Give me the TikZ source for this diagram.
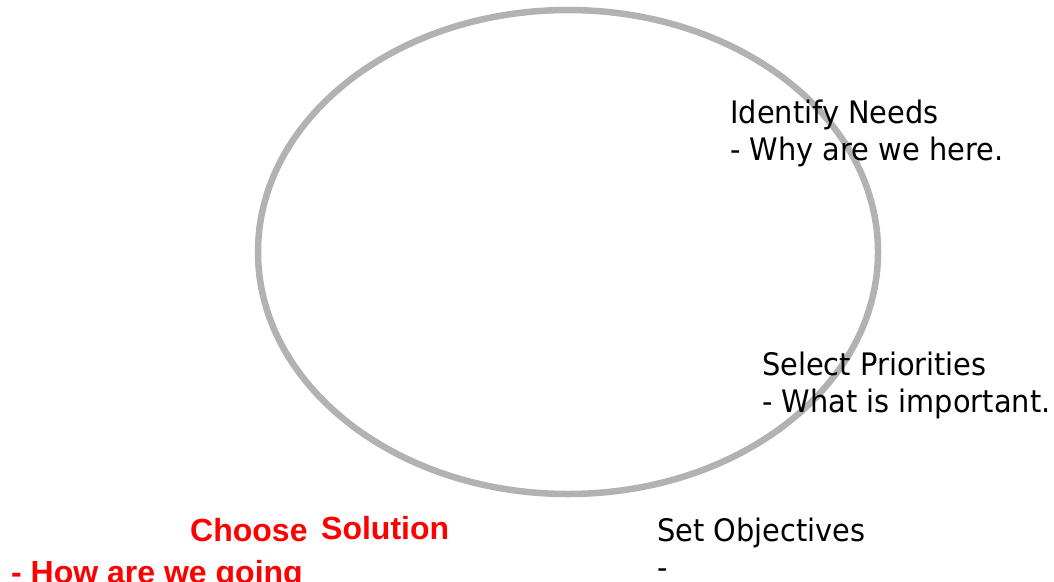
\documentclass[tikz,border=0pt]{standalone}
\usepackage{fontspec}
\newfontfamily\labelfont[FakeStretch=0.93]{DejaVu Sans}
\newfontfamily\boldred{Liberation Sans}
\begin{document}
\begin{tikzpicture}[x=1pt,y=-1pt,
  cycle/.style={draw=black!30,line width=6.5pt},
  steptext/.style={anchor=base west,inner sep=0pt,font=\labelfont\fontsize{31}{37}\selectfont,text=black},
  hottext/.style={anchor=base west,inner sep=0pt,font=\boldred\bfseries\fontsize{32}{38}\selectfont,text=red}]
\useasboundingbox (0,0) rectangle (1054,581);
\clip (0,0) rectangle (1054,581);
% the cycle
\draw[cycle] (568,252) ellipse [x radius=310, y radius=242];
% stages
\node[steptext] (needs)  at (730,123.6) {Identify Needs};
\node[steptext] (needsq) at (730,160.5) {- Why are we here.};
\node[steptext] (prio)   at (762,375) {Select Priorities};
\node[steptext] (prioq)  at (762,412) {- What is important.};
\node[steptext] (obj)    at (657,541.7) {Set Objectives};
\node[steptext] (objq)   at (657,578.7) {-};
\node[hottext] (choose) at (190,541.7) {Choose};
\node[hottext] (sol)    at (321,539) {Solution};
\node[hottext] (solq)   at (11,583.5) {- How are we going};
\end{tikzpicture}
\end{document}
